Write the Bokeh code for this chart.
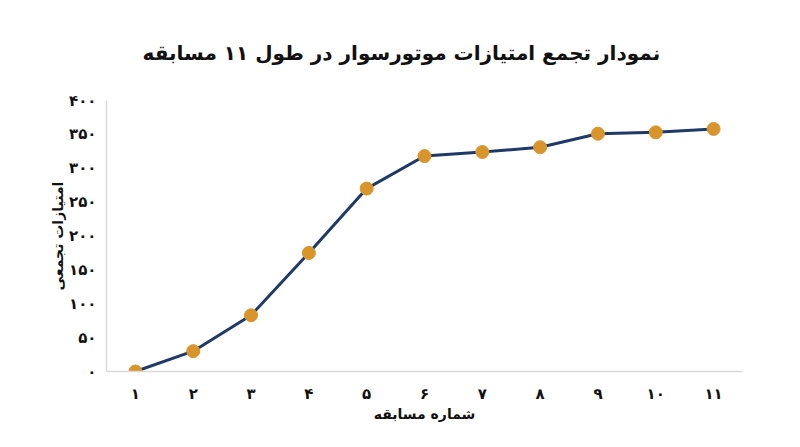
from bokeh.plotting import figure
from bokeh.models import ColumnDataSource, Range1d, FixedTicker, Title
from bokeh.embed import file_html
from bokeh.resources import INLINE

# data
races = [1, 2, 3, 4, 5, 6, 7, 8, 9, 10, 11]
points = [0, 30, 83, 175, 270, 318, 324, 331, 351, 353, 358]

x_tick_labels = ["۱", "۲", "۳", "۴", "۵", "۶", "۷", "۸", "۹", "۱۰", "۱۱"]
y_ticks = [0, 50, 100, 150, 200, 250, 300, 350, 400]
y_tick_labels = ["۰", "۵۰", "۱۰۰", "۱۵۰", "۲۰۰", "۲۵۰", "۳۰۰", "۳۵۰", "۴۰۰"]

title_text = "نمودار تجمع امتیازات موتورسوار در طول ۱۱ مسابقه"
x_label = "شماره مسابقه"
y_label = "امتیازات تجمعی"

FONT = "DejaVu Sans"
LINE_COLOR = "#1f3a68"
DOT_COLOR = "#d8952c"
AXIS_COLOR = "#d9d9d9"

source = ColumnDataSource(dict(race=races, points=points))

p = figure(width=784, height=431, output_backend="svg", toolbar_location=None,
           x_range=Range1d(0.5, 11.5), y_range=Range1d(0, 400),
           min_border_left=106, min_border_right=42, min_border_top=100, min_border_bottom=60)

# left-aligned with an offset so the title ends up centred on the page
p.title = Title(text=title_text, align="left", offset=36, standoff=72, text_font=FONT,
                text_font_size="20px", text_font_style="bold", text_color="#111111")

p.line(x="race", y="points", source=source, line_color=LINE_COLOR, line_width=3)
p.scatter(x="race", y="points", source=source, size=13, fill_color=DOT_COLOR, line_color=DOT_COLOR)

p.xgrid.visible = False
p.ygrid.visible = False
p.outline_line_color = None

p.xaxis.ticker = FixedTicker(ticks=races)
p.xaxis.major_label_overrides = {r: lab for r, lab in zip(races, x_tick_labels)}
p.yaxis.ticker = FixedTicker(ticks=y_ticks)
p.yaxis.major_label_overrides = {t: lab for t, lab in zip(y_ticks, y_tick_labels)}

for ax in (p.xaxis, p.yaxis):
    ax.axis_line_color = AXIS_COLOR
    ax.axis_line_width = 1.5
    ax.major_tick_line_color = None
    ax.minor_tick_line_color = None
    ax.major_label_text_font = FONT
    ax.major_label_text_font_size = "15px"
    ax.major_label_text_font_style = "bold"
    ax.major_label_text_color = "#111111"
    ax.axis_label_text_font = FONT
    ax.axis_label_text_font_size = "14px"
    ax.axis_label_text_font_style = "bold"
    ax.axis_label_text_color = "#111111"

p.xaxis.axis_label = x_label
p.yaxis.axis_label = y_label
p.xaxis.major_label_standoff = 7
p.yaxis.major_label_standoff = 4
p.xaxis.axis_label_standoff = 0
p.yaxis.axis_label_standoff = 0

open("out.html", "w").write(file_html(p, INLINE))
